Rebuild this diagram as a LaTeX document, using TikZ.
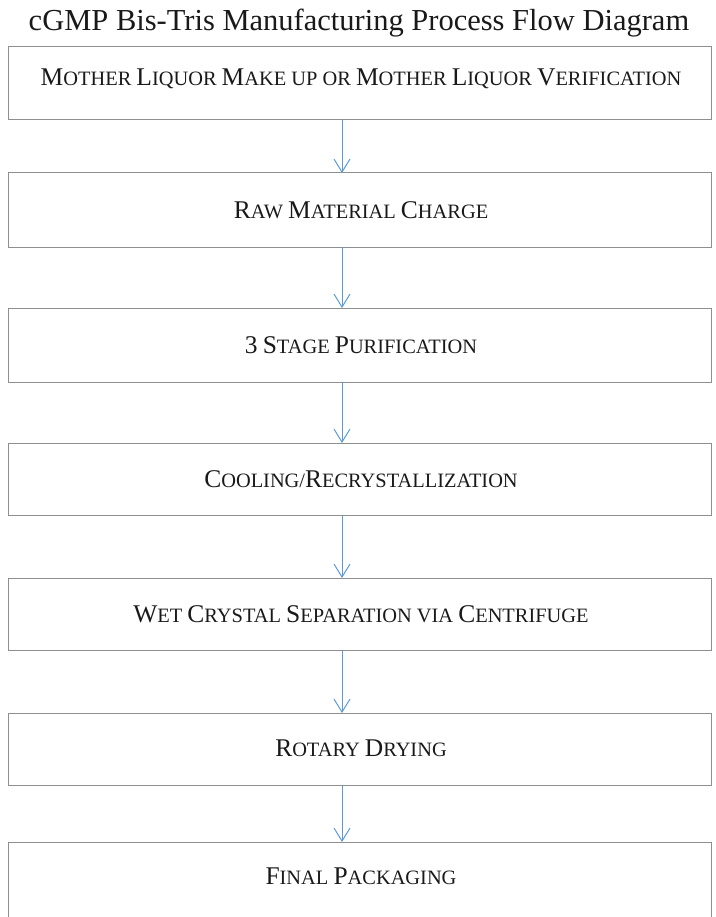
\documentclass[tikz,border=0pt]{standalone}
\usepackage{fontspec}
\setmainfont{Liberation Serif}
\usetikzlibrary{arrows.meta}
\definecolor{arrowblue}{HTML}{5B9BD5}
\definecolor{boxgray}{HTML}{8F8F8F}
\newcommand\BC[1]{{\fontsize{25.5}{28}\selectfont #1}}
\begin{document}
\begin{tikzpicture}[x=1pt,y=-1pt,
  stepbox/.style={draw=boxgray,line width=1pt},
  steptext/.style={font=\fontsize{20.4}{24}\selectfont,text=black!90,inner sep=0pt},
  flow/.style={draw=arrowblue,line width=1pt,-{Straight Barb[length=13pt,width=16pt,line width=1pt]}}]
\useasboundingbox (0,0) rectangle (715,917);
\clip (0,0) rectangle (715,917);
\node[font=\fontsize{30.5}{36}\selectfont,text=black!90] (title) at (359,23) {cGMP Bis-Tris Manufacturing Process Flow Diagram};
\foreach \i/\t/\b in {1/47/120,2/173/247,3/308/382,4/443/515,5/578/650,6/713/785,7/842/916}{
  \coordinate (t\i) at (342,\t);
  \coordinate (b\i) at (342,\b);
}
\draw[stepbox] (8,47) rectangle (711,120);
\draw[stepbox] (8,173) rectangle (711,247);
\draw[stepbox] (8,308) rectangle (711,382);
\draw[stepbox] (8,443) rectangle (711,515);
\draw[stepbox] (8,578) rectangle (711,650);
\draw[stepbox] (8,713) rectangle (711,785);
\draw[stepbox] (8,842) rectangle (711,940);
\node[steptext] (s1) at (361,79) {\BC{M}OTHER \BC{L}IQUOR \BC{M}AKE UP OR \BC{M}OTHER \BC{L}IQUOR \BC{V}ERIFICATION};
\node[steptext] (s2) at (361,210) {\BC{R}AW \BC{M}ATERIAL \BC{C}HARGE};
\node[steptext] (s3) at (361,345) {\BC{3} \BC{S}TAGE \BC{P}URIFICATION};
\node[steptext] (s4) at (361,479) {\BC{C}OOLING/\BC{R}ECRYSTALLIZATION};
\node[steptext] (s5) at (361,614) {\BC{W}ET \BC{C}RYSTAL \BC{S}EPARATION VIA \BC{C}ENTRIFUGE};
\node[steptext] (s6) at (361,748) {\BC{R}OTARY \BC{D}RYING};
\node[steptext] (s7) at (361,876) {\BC{F}INAL \BC{P}ACKAGING};
\draw[flow] (b1) -- (t2);
\draw[flow] (b2) -- (t3);
\draw[flow] (b3) -- (t4);
\draw[flow] (b4) -- (t5);
\draw[flow] (b5) -- (t6);
\draw[flow] (b6) -- (t7);
\end{tikzpicture}
\end{document}
